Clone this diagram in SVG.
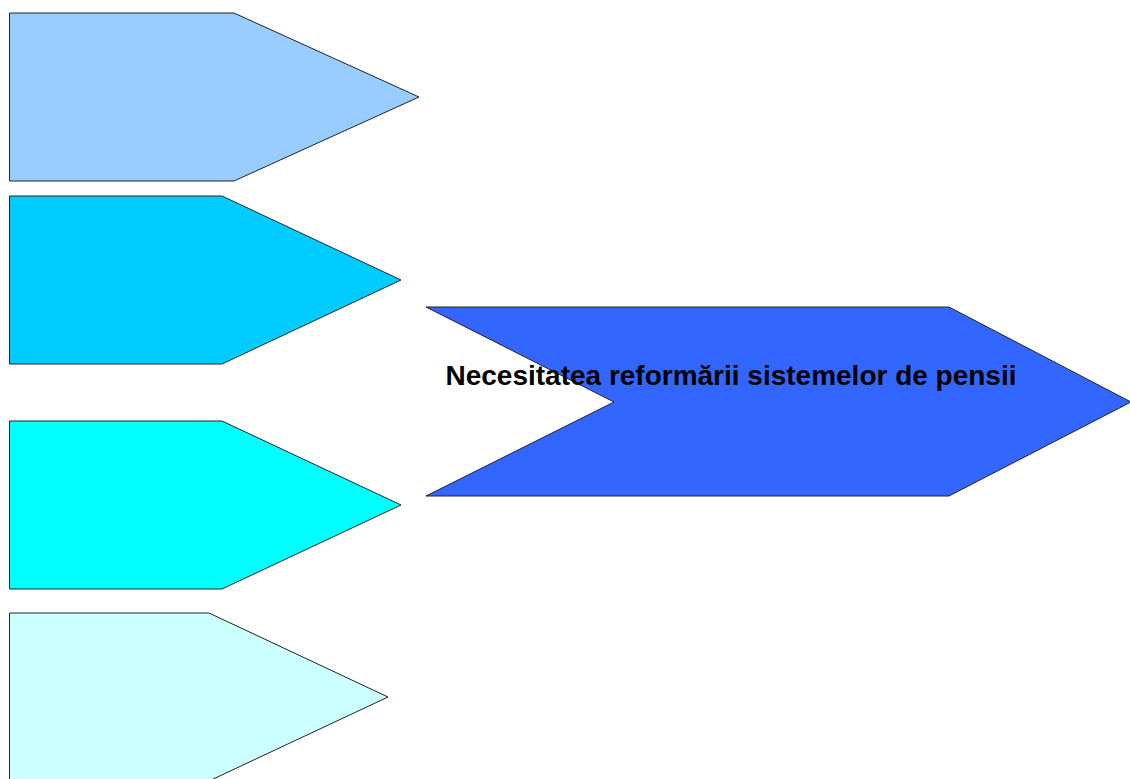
<svg xmlns="http://www.w3.org/2000/svg" width="1130" height="779" viewBox="0 0 1130 779">
<style>
.s{stroke:#222;stroke-width:1;stroke-linejoin:miter}
.t{font-family:"Liberation Sans",Arial,sans-serif;font-weight:bold;font-size:28px;fill:#000}
</style>
<rect width="1130" height="779" fill="#fff"/>
<g id="p1"><polygon class="s" fill="#99ccff" points="9.5,13 234,13 419,97 234,181 9.5,181"/></g>
<g id="p2"><polygon class="s" fill="#00ccff" points="9.5,196 222,196 401,280 222,364 9.5,364"/></g>
<g id="p3"><polygon class="s" fill="#00ffff" points="9.5,421 222,421 401,505 222,589 9.5,589"/></g>
<g id="p4"><polygon class="s" fill="#ccffff" points="9.5,613 209,613 388,697 209,781 9.5,781"/></g>
<g id="main">
<polygon class="s" fill="#3366ff" points="426,307 949,307 1131,402 949,496 426,496 614,402"/>
<text class="t" x="731" y="385" text-anchor="middle" textLength="571" lengthAdjust="spacingAndGlyphs">Necesitatea reformării sistemelor de pensii</text>
</g>
<g id="connectors"></g>
</svg>
